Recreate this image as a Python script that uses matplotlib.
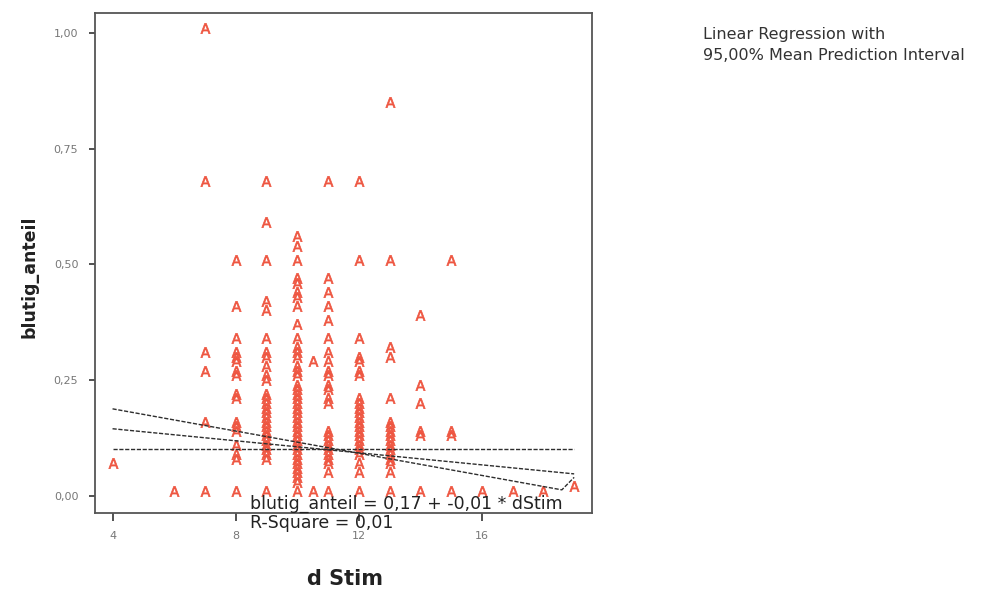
import matplotlib.pyplot as plt
from matplotlib.transforms import ScaledTranslation

# --- Data: blutig_anteil observations per d Stim level ---
d_stim_levels = [4, 6, 7, 8, 9, 10, 10.5, 11, 12, 13, 14, 15, 16, 17, 18, 19]
blutig_by_level = [
    [0.06],
    [0.0],
    [1.0, 0.67, 0.30, 0.26, 0.15, 0.0],
    [0.5, 0.40, 0.33, 0.30, 0.29, 0.28, 0.26, 0.25, 0.21, 0.20, 0.15, 0.14,
     0.13, 0.10, 0.08, 0.07, 0.0],
    [0.67, 0.58, 0.5, 0.41, 0.39, 0.33, 0.30, 0.29, 0.27, 0.25, 0.24, 0.21,
     0.20, 0.19, 0.18, 0.17, 0.16, 0.15, 0.14, 0.13, 0.12, 0.11, 0.10, 0.09,
     0.08, 0.07, 0.0],
    [0.55, 0.53, 0.5, 0.46, 0.45, 0.43, 0.42, 0.40, 0.36, 0.33, 0.31, 0.30,
     0.29, 0.27, 0.26, 0.25, 0.23, 0.22, 0.21, 0.20, 0.19, 0.18, 0.17, 0.16,
     0.15, 0.14, 0.13, 0.12, 0.11, 0.10, 0.09, 0.08, 0.07, 0.06, 0.05, 0.04,
     0.03, 0.02, 0.0],
    [0.28, 0.0],
    [0.67, 0.46, 0.43, 0.40, 0.37, 0.33, 0.30, 0.28, 0.26, 0.25, 0.23, 0.22,
     0.20, 0.19, 0.13, 0.12, 0.11, 0.10, 0.09, 0.08, 0.07, 0.06, 0.04, 0.0],
    [0.67, 0.5, 0.33, 0.29, 0.28, 0.26, 0.25, 0.20, 0.19, 0.18, 0.17, 0.16,
     0.15, 0.14, 0.13, 0.12, 0.11, 0.10, 0.09, 0.08, 0.06, 0.04, 0.0],
    [0.84, 0.5, 0.31, 0.29, 0.20, 0.15, 0.14, 0.13, 0.12, 0.11, 0.10, 0.09,
     0.08, 0.07, 0.06, 0.04, 0.0],
    [0.38, 0.23, 0.19, 0.13, 0.12, 0.0],
    [0.5, 0.13, 0.12, 0.0],
    [0.0],
    [0.0],
    [0.0],
    [0.01],
]

# regression fit and interval lines
intercept = 0.171
slope = -0.0065
r_square = 0.01
fit_x = [4, 19]
band_a_x = [4, 18.6, 19]
band_a_y = [0.188, 0.013, 0.04]
band_b_x = [4, 19]
band_b_y = [0.102, 0.102]

x_ticks = [4, 8, 12, 16]
y_ticks = [0.0, 0.25, 0.5, 0.75, 1.0]
y_tick_labels = ["0,00", "0,25", "0,50", "0,75", "1,00"]

MARKER_COLOR = "#ee5540"
LINE_COLOR = "#2e2e2e"


def de_num(v):
    # German decimal comma
    return "{:.2f}".format(v).replace(".", ",")


fig = plt.figure(figsize=(9.81, 5.92), dpi=100)
ax = fig.add_axes([95 / 981, 1 - 513 / 592, 497 / 981, 500 / 592])

# flatten into x/y pairs
xs, ys = [], []
for lvl, vals in zip(d_stim_levels, blutig_by_level):
    xs += [lvl] * len(vals)
    ys += vals

# letter "A" markers sit just above their value (SPSS style)
lift = ax.transData + ScaledTranslation(0, 3.5 / 72, fig.dpi_scale_trans)
ax.scatter(xs, ys, marker=r"$\mathsf{A}$", s=55, color=MARKER_COLOR,
           linewidths=0.5, edgecolors=MARKER_COLOR, transform=lift, zorder=2)

fit_y = [intercept + slope * x for x in fit_x]
dash = (0, (3, 1.2))
ax.plot(fit_x, fit_y, color=LINE_COLOR, lw=1.0, linestyle=dash, zorder=3)
ax.plot(band_a_x, band_a_y, color=LINE_COLOR, lw=1.0, linestyle=dash, zorder=3)
ax.plot(band_b_x, band_b_y, color=LINE_COLOR, lw=1.0, linestyle=dash, zorder=3)

ax.set_xlim(3.43, 19.58)
ax.set_ylim(-0.037, 1.043)
ax.set_xticks(x_ticks)
ax.set_xticklabels([str(t) for t in x_ticks])
ax.set_yticks(y_ticks)
ax.set_yticklabels(y_tick_labels)
ax.tick_params(axis="both", labelsize=8, labelcolor="#777777", color="#333333",
               direction="out", width=1.2)
ax.tick_params(axis="x", length=6, pad=7)
ax.tick_params(axis="y", length=4, pad=8)
for sp in ax.spines.values():
    sp.set_color("#555555")
    sp.set_linewidth(1.3)

# regression equation and fit statistic
eq_text = "blutig_anteil = {} + {} * dStim".format(
    de_num(intercept), de_num(slope))
ax.text(8.46, -0.017, eq_text, fontsize=12.5, color="#222222",
        ha="left", va="center", clip_on=False, zorder=4)
ax.text(8.46, -0.058, "R-Square = " + de_num(r_square), fontsize=12.5,
        color="#222222", ha="left", va="center", clip_on=False)

fig.text(30 / 981, 1 - 277 / 592, "blutig_anteil", rotation=90, fontsize=12.5,
         fontweight="bold", color="#222222", ha="center", va="center")
fig.text(345 / 981, 1 - 579 / 592, "d Stim", fontsize=15, fontweight="bold",
         color="#222222", ha="center", va="center")

fig.text(703 / 981, 1 - 35 / 592, "Linear Regression with", fontsize=11.5,
         color="#333333", ha="left", va="center")
fig.text(703 / 981, 1 - 55 / 592, "95,00% Mean Prediction Interval",
         fontsize=11.5, color="#333333", ha="left", va="center")

fig.savefig("out.png", dpi=100)
